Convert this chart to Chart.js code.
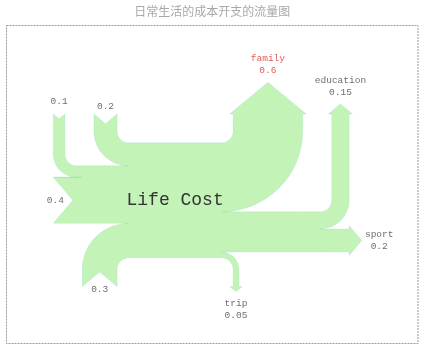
<!DOCTYPE html>
<html>
<head>
<meta charset="utf-8">
<script src="https://cdn.jsdelivr.net/npm/chart.js@4"></script>
<style>
  body { margin: 0; background: #fff; }
</style>
</head>
<body>
<canvas id="sankeyChart" width="425" height="353"></canvas>
<script>
// flows into (+) and out of (-) the trunk, in the order given to the diagram
const flows = [0.2, 0.1, 0.4, 0.3, -0.6, -0.05, -0.15, -0.2];
const flowLabels = ['', '', '', '', 'family', 'trip', 'education', 'sport'];
const orientations = [1, 1, 0, -1, 1, -1, 1, 0];
const patchLabel = 'Life Cost';
const chartTitle = '日常生活的成本开支的流量图';

// sankey geometry settings (same defaults as matplotlib's Sankey)
const GAP = 0.25, RADIUS = 0.1, SHOULDER = 0.03, OFFSET = 0.15, TRUNK = 1.0, PATHLEN = 0.25;
const PITCH = Math.tan(Math.PI * (1 - 100 / 180) / 2);
const RIGHT = 0, UP = 1, DOWN = 3;

const ARC = [[1, 0], [1, 0.265114773], [0.894571235, 0.519642327], [0.707106781, 0.707106781],
             [0.519642327, 0.894571235], [0.265114773, 1], [0, 1]];
const ARC_CODES = ['L', 'C', 'C', 'C', 'C', 'C', 'C'];

function arc(quadrant, cw, r, cx, cy) {
  let v;
  if (quadrant === 0 || quadrant === 2) v = cw ? ARC.map(p => [p[0], p[1]]) : ARC.map(p => [p[1], p[0]]);
  else v = cw ? ARC.map(p => [-p[1], p[0]]) : ARC.map(p => [-p[0], p[1]]);
  if (quadrant > 1) r = -r;
  return v.map((p, i) => [ARC_CODES[i], r * p[0] + cx, r * p[1] + cy]);
}

function addInput(path, angle, flow, length) {
  let [, x, y] = path[path.length - 1];
  const dipdepth = (flow / 2) * PITCH;
  let dip, lab;
  if (angle === RIGHT) {
    x -= length;
    dip = [x + dipdepth, y + flow / 2];
    path.push(['L', x, y], ['L', dip[0], dip[1]], ['L', x, y + flow], ['L', x + GAP, y + flow]);
    lab = [dip[0] - OFFSET, dip[1]];
  } else {
    x -= GAP;
    const sign = angle === UP ? 1 : -1;
    dip = [x - flow / 2, y - sign * (length - dipdepth)];
    const quadrant = angle === DOWN ? 2 : 1;
    path.push(...arc(quadrant, angle === UP, RADIUS, x + RADIUS, y - sign * RADIUS));
    path.push(['L', x, y - sign * length], ['L', dip[0], dip[1]], ['L', x - flow, y - sign * length]);
    path.push(...arc(quadrant, angle === DOWN, flow + RADIUS, x + RADIUS, y - sign * RADIUS));
    path.push(['L', x - flow, y + sign * flow]);
    lab = [dip[0], dip[1] - sign * OFFSET];
  }
  return lab;
}

function addOutput(path, angle, flow, length) {
  let [, x, y] = path[path.length - 1];
  const tipheight = (SHOULDER - flow / 2) * PITCH;
  let tip, lab;
  if (angle === RIGHT) {
    x += length;
    tip = [x + tipheight, y + flow / 2];
    path.push(['L', x, y], ['L', x, y + SHOULDER], ['L', tip[0], tip[1]],
              ['L', x, y - SHOULDER + flow], ['L', x, y + flow], ['L', x - GAP, y + flow]);
    lab = [tip[0] + OFFSET, tip[1]];
  } else {
    x += GAP;
    const sign = angle === UP ? 1 : -1;
    const quadrant = angle === UP ? 3 : 0;
    tip = [x - flow / 2, y + sign * (length + tipheight)];
    path.push(...arc(quadrant, angle === UP, RADIUS, x - RADIUS, y + sign * RADIUS));
    path.push(['L', x, y + sign * length], ['L', x - SHOULDER, y + sign * length], ['L', tip[0], tip[1]],
              ['L', x + SHOULDER - flow, y + sign * length], ['L', x - flow, y + sign * length]);
    path.push(...arc(quadrant, angle === DOWN, RADIUS - flow, x - RADIUS, y + sign * RADIUS));
    path.push(['L', x - flow, y + sign * flow]);
    lab = [tip[0], tip[1] + sign * OFFSET];
  }
  return lab;
}

function revert(path) {
  const out = [];
  let next = 'L';
  for (let i = path.length - 1; i >= 0; i--) {
    out.push([next, path[i][1], path[i][2]]);
    next = path[i][0];
  }
  return out;
}

function buildSankey() {
  const n = flows.length;
  const angles = [], isInput = [];
  flows.forEach((f, i) => {
    const o = orientations[i];
    if (o === 0) angles[i] = RIGHT;
    else if (f > 0) angles[i] = o === 1 ? DOWN : UP;
    else angles[i] = o === 1 ? UP : DOWN;
    isInput[i] = f > 0;
  });
  const gain = flows.reduce((s, f) => s + Math.max(f, 0), 0);
  const loss = flows.reduce((s, f) => s + Math.min(f, 0), 0);

  const lengths = flows.map(() => 0);
  let ul = PATHLEN, ur = PATHLEN, ll = PATHLEN, lr = PATHLEN;
  for (let i = 0; i < n; i++) {
    if (angles[i] === DOWN && isInput[i]) { lengths[i] = ul; ul += flows[i]; }
    else if (angles[i] === UP && !isInput[i]) { lengths[i] = ur; ur -= flows[i]; }
  }
  for (let i = n - 1; i >= 0; i--) {
    if (angles[i] === UP && isInput[i]) { lengths[i] = ll; ll += flows[i]; }
    else if (angles[i] === DOWN && !isInput[i]) { lengths[i] = lr; lr -= flows[i]; }
  }

  const a = GAP - TRUNK / 2, b = TRUNK / 2 - GAP;
  const urpath = [['M', a, gain / 2], ['L', a / 2, gain / 2], ['C', a / 8, gain / 2],
                  ['C', b / 8, -loss / 2], ['C', b / 2, -loss / 2], ['L', b, -loss / 2]];
  const llpath = [['L', b, loss / 2], ['L', b / 2, loss / 2], ['C', b / 8, loss / 2],
                  ['C', a / 8, -gain / 2], ['C', a / 2, -gain / 2], ['L', a, -gain / 2]];
  const lrpath = [['L', b, loss / 2]];
  const ulpath = [['L', a, gain / 2]];

  const labelPos = [];
  for (let i = 0; i < n; i++) {
    if (angles[i] === DOWN && isInput[i]) labelPos[i] = addInput(ulpath, DOWN, flows[i], lengths[i]);
    else if (angles[i] === UP && !isInput[i]) labelPos[i] = addOutput(urpath, UP, flows[i], lengths[i]);
  }
  for (let i = n - 1; i >= 0; i--) {
    if (angles[i] === UP && isInput[i]) labelPos[i] = addInput(llpath, UP, flows[i], lengths[i]);
    else if (angles[i] === DOWN && !isInput[i]) labelPos[i] = addOutput(lrpath, DOWN, flows[i], lengths[i]);
  }
  let hasLeft = false;
  for (let i = n - 1; i >= 0; i--) {
    if (angles[i] === RIGHT && isInput[i]) {
      if (!hasLeft) {
        const lx = llpath[llpath.length - 1], ux = ulpath[ulpath.length - 1];
        if (lx[1] > ux[1]) llpath.push(['L', ux[1], lx[2]]);
        hasLeft = true;
      }
      labelPos[i] = addInput(llpath, RIGHT, flows[i], lengths[i]);
    }
  }
  let hasRight = false;
  for (let i = 0; i < n; i++) {
    if (angles[i] === RIGHT && !isInput[i]) {
      if (!hasRight) {
        const ux = urpath[urpath.length - 1], lx = lrpath[lrpath.length - 1];
        if (ux[1] < lx[1]) urpath.push(['L', lx[1], ux[2]]);
        hasRight = true;
      }
      labelPos[i] = addOutput(urpath, RIGHT, flows[i], lengths[i]);
    }
  }
  const path = urpath.concat(revert(lrpath), llpath, revert(ulpath));
  return { path, labelPos };
}

const sankey = buildSankey();

const sankeyPlugin = {
  id: 'sankeyPlugin',
  afterDatasetsDraw(chart) {
    const { ctx, chartArea, scales: { x, y } } = chart;
    const px = v => x.getPixelForValue(v), py = v => y.getPixelForValue(v);

    ctx.save();
    ctx.beginPath();
    const p = sankey.path;
    for (let i = 0; i < p.length; i++) {
      const [c, vx, vy] = p[i];
      if (c === 'M') ctx.moveTo(px(vx), py(vy));
      else if (c === 'L') ctx.lineTo(px(vx), py(vy));
      else {
        const c2 = p[i + 1], e = p[i + 2];
        ctx.bezierCurveTo(px(vx), py(vy), px(c2[1]), py(c2[2]), px(e[1]), py(e[2]));
        i += 2;
      }
    }
    ctx.closePath();
    ctx.fillStyle = 'rgb(196, 243, 184)';
    ctx.fill();
    ctx.strokeStyle = 'rgba(0, 170, 190, 0.18)';
    ctx.lineWidth = 0.5;
    ctx.stroke();

    // flow labels
    ctx.textAlign = 'center';
    ctx.textBaseline = 'middle';
    ctx.font = '9.5px "Liberation Mono"';
    flows.forEach((f, i) => {
      const pos = sankey.labelPos[i];
      if (!pos) return;
      const lines = flowLabels[i] ? [flowLabels[i], String(Math.abs(f))] : [String(Math.abs(f))];
      ctx.fillStyle = i === 4 ? '#e06060' : '#6e6e6e';
      const lh = 12;
      const cx = px(pos[0]), cy = py(pos[1]);
      lines.forEach((t, k) => ctx.fillText(t, cx, cy + (k - (lines.length - 1) / 2) * lh));
    });

    ctx.font = '18px "Liberation Mono"';
    ctx.fillStyle = '#333';
    ctx.fillText(patchLabel, px(0), py(0));

    // axes frame
    ctx.setLineDash([2, 1]);
    ctx.strokeStyle = '#999';
    ctx.lineWidth = 1;
    ctx.strokeRect(chartArea.left + 0.5, chartArea.top + 0.5, chartArea.width - 1, chartArea.height - 1);
    ctx.restore();
  }
};

new Chart(document.getElementById('sankeyChart').getContext('2d'), {
  type: 'scatter',
  data: { datasets: [{ data: [], pointRadius: 0 }] },
  options: {
    responsive: false,
    animation: false,
    devicePixelRatio: 1,
    layout: { padding: { left: 6, right: 6.5, top: 0, bottom: 9 } },
    plugins: {
      legend: { display: false },
      tooltip: { enabled: false },
      title: {
        display: true,
        text: chartTitle,
        color: '#a8a8a8',
        font: { family: '"Noto Sans CJK SC"', size: 12, weight: 'normal', lineHeight: 1.2 },
        padding: { top: 4, bottom: 6.6 }
      }
    },
    scales: {
      x: { type: 'linear', display: false, min: -1.4578, max: 2.098 },
      y: { type: 'linear', display: false, min: -1.2496, max: 1.5243 }
    }
  },
  plugins: [sankeyPlugin]
});
</script>
</body>
</html>
